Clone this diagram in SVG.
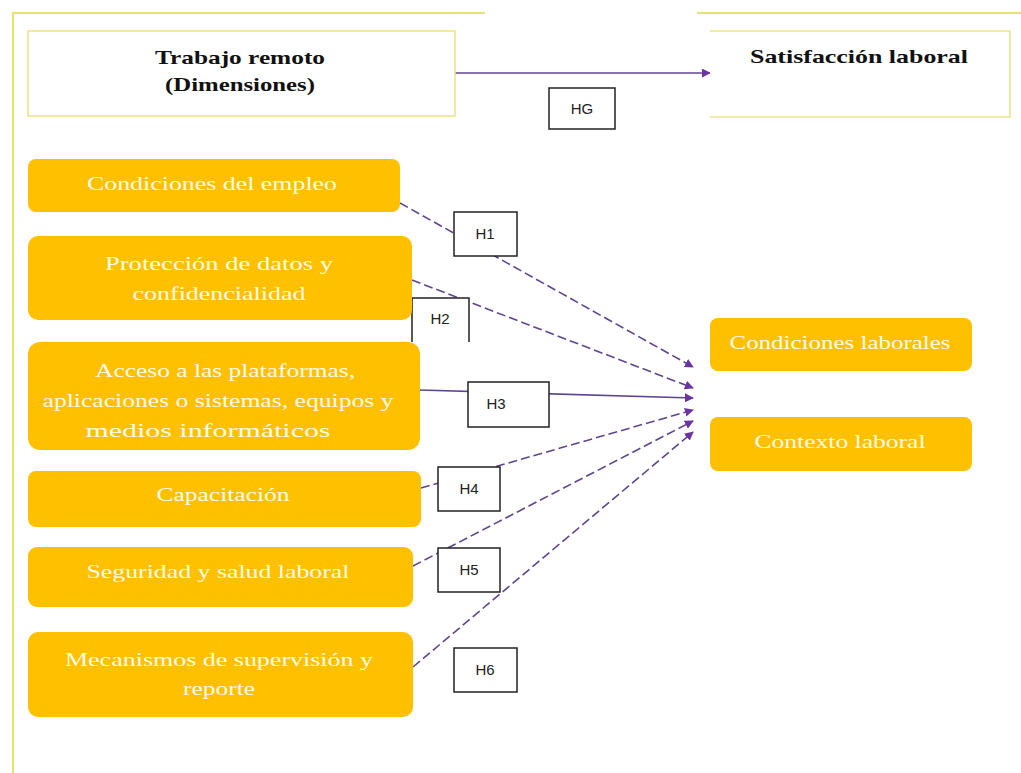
<svg xmlns="http://www.w3.org/2000/svg" width="1021" height="773" viewBox="0 0 1021 773">
<defs>
<style>
.frame{fill:none;stroke:#E8E070;stroke-width:2}
.hbox{fill:#fff;stroke:#EEE48C;stroke-width:1.6}
.node{fill:#FFC000}
.nt{font-family:"Liberation Serif","Times New Roman",serif;font-size:19px;fill:#FFFBEA;text-anchor:middle}
.tt{font-family:"Liberation Serif","Times New Roman",serif;font-size:19px;font-weight:bold;fill:#111;text-anchor:middle}
.lbl{fill:#fff;stroke:#222;stroke-width:1.5}
.lt{font-family:"Liberation Sans",Arial,sans-serif;font-size:15px;fill:#222;text-anchor:middle}
.c{fill:none;stroke:#5E4590;stroke-width:1.6}
.d{stroke-dasharray:9 4}
</style>
<marker id="ah" viewBox="0 0 10 10" refX="9" refY="5" markerWidth="9" markerHeight="9" markerUnits="userSpaceOnUse" orient="auto">
<path d="M0,0 L10,5 L0,10 z" fill="#6A35A0"/>
</marker>
</defs>
<rect width="1021" height="773" fill="#fff"/>
<g id="frame">
<path class="frame" d="M13,773 V13 H485"/>
<path class="frame" d="M697,13 H1021"/>
</g>
<g id="connectors">
<line class="c" x1="455" y1="73" x2="710" y2="73" marker-end="url(#ah)"/>
<line class="c d" x1="400" y1="203" x2="693" y2="367" marker-end="url(#ah)"/>
<line class="c d" x1="412" y1="280" x2="693" y2="388" marker-end="url(#ah)"/>
<line class="c" x1="420" y1="390" x2="693" y2="398" marker-end="url(#ah)"/>
<line class="c d" x1="421" y1="488" x2="693" y2="410" marker-end="url(#ah)"/>
<line class="c d" x1="413" y1="566" x2="693" y2="421" marker-end="url(#ah)"/>
<line class="c d" x1="413" y1="667" x2="693" y2="432" marker-end="url(#ah)"/>
</g>
<g id="labels">
<g id="lbl-hg"><rect class="lbl" x="549" y="88" width="66" height="41"/><text class="lt" x="582" y="114">HG</text></g>
<g id="lbl-h1"><rect class="lbl" x="454" y="212" width="63" height="44"/><text class="lt" x="485" y="239">H1</text></g>
<g id="lbl-h2"><rect x="412" y="298" width="57" height="44" fill="#fff"/><path class="lbl" fill="none" d="M412,342 V298 H469 V342"/><text class="lt" x="440" y="324">H2</text></g>
<g id="lbl-h3"><rect class="lbl" x="468" y="382" width="81" height="45"/><text class="lt" x="496" y="409">H3</text></g>
<g id="lbl-h4"><rect class="lbl" x="438" y="467" width="62" height="44"/><text class="lt" x="469" y="494">H4</text></g>
<g id="lbl-h5"><rect class="lbl" x="438" y="548" width="62" height="44"/><text class="lt" x="469" y="575">H5</text></g>
<g id="lbl-h6"><rect class="lbl" x="454" y="648" width="63" height="44"/><text class="lt" x="485" y="675">H6</text></g>
</g>
<g id="trabajo-remoto">
<rect class="hbox" x="28" y="31" width="427" height="85"/>
<text class="tt" x="240" y="64" textLength="170" lengthAdjust="spacingAndGlyphs">Trabajo remoto</text>
<text class="tt" x="240" y="91" textLength="150" lengthAdjust="spacingAndGlyphs">(Dimensiones)</text>
</g>
<g id="satisfaccion">
<rect x="710" y="31" width="300" height="86" fill="#fff"/>
<path class="hbox" d="M710,31 H1010 V117 H710"/>
<text class="tt" x="859" y="63" textLength="218" lengthAdjust="spacingAndGlyphs">Satisfacción laboral</text>
</g>
<g id="n1">
<rect class="node" x="28" y="159" width="372" height="53" rx="8"/>
<text class="nt" x="212" y="190" textLength="250" lengthAdjust="spacingAndGlyphs">Condiciones del empleo</text>
</g>
<g id="n2">
<rect class="node" x="28" y="236" width="384" height="84" rx="10"/>
<text class="nt" x="219" y="270" textLength="228" lengthAdjust="spacingAndGlyphs">Protección de datos y</text>
<text class="nt" x="219" y="300" textLength="173" lengthAdjust="spacingAndGlyphs">confidencialidad</text>
</g>
<g id="n3">
<rect class="node" x="28" y="342" width="392" height="108" rx="12"/>
<text class="nt" x="225" y="377" textLength="260" lengthAdjust="spacingAndGlyphs">Acceso a las plataformas,</text>
<text class="nt" x="218" y="407" textLength="351" lengthAdjust="spacingAndGlyphs">aplicaciones o sistemas, equipos y</text>
<text class="nt" x="208" y="437" textLength="245" lengthAdjust="spacingAndGlyphs">medios informáticos</text>
</g>
<g id="n4">
<rect class="node" x="28" y="471" width="393" height="56" rx="8"/>
<text class="nt" x="223" y="501" textLength="133" lengthAdjust="spacingAndGlyphs">Capacitación</text>
</g>
<g id="n5">
<rect class="node" x="28" y="547" width="385" height="60" rx="9"/>
<text class="nt" x="218" y="578" textLength="263" lengthAdjust="spacingAndGlyphs">Seguridad y salud laboral</text>
</g>
<g id="n6">
<rect class="node" x="28" y="632" width="385" height="85" rx="10"/>
<text class="nt" x="219" y="666" textLength="308" lengthAdjust="spacingAndGlyphs">Mecanismos de supervisión y</text>
<text class="nt" x="219" y="695" textLength="72" lengthAdjust="spacingAndGlyphs">reporte</text>
</g>
<g id="n7">
<rect class="node" x="710" y="318" width="262" height="53" rx="8"/>
<text class="nt" x="840" y="349" textLength="221" lengthAdjust="spacingAndGlyphs">Condiciones laborales</text>
</g>
<g id="n8">
<rect class="node" x="710" y="417" width="262" height="54" rx="8"/>
<text class="nt" x="840" y="448" textLength="171" lengthAdjust="spacingAndGlyphs">Contexto laboral</text>
</g>
</svg>
